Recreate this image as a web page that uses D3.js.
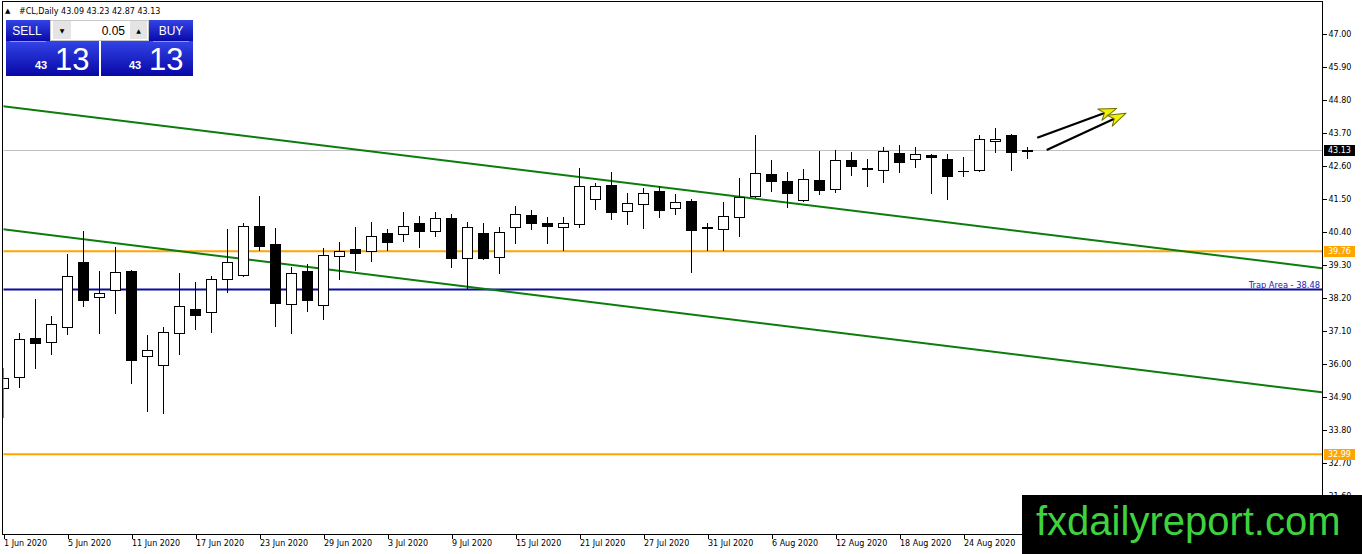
<!DOCTYPE html>
<html><head><meta charset="utf-8">
<script src="https://cdn.jsdelivr.net/npm/d3@7/dist/d3.min.js"></script>
<style>
html,body{margin:0;padding:0;background:#fff;}
svg{display:block;}
</style></head>
<body>
<svg id="c" width="1362" height="554" font-family="DejaVu Sans, sans-serif"></svg>
<script>
// ---------- data ----------
const dates = ["1 Jun 2020","2 Jun 2020","3 Jun 2020","4 Jun 2020","5 Jun 2020","8 Jun 2020","9 Jun 2020","10 Jun 2020","11 Jun 2020","12 Jun 2020",
"15 Jun 2020","16 Jun 2020","17 Jun 2020","18 Jun 2020","19 Jun 2020","22 Jun 2020","23 Jun 2020","24 Jun 2020","25 Jun 2020","26 Jun 2020",
"29 Jun 2020","30 Jun 2020","1 Jul 2020","2 Jul 2020","3 Jul 2020","6 Jul 2020","7 Jul 2020","8 Jul 2020","9 Jul 2020","10 Jul 2020",
"13 Jul 2020","14 Jul 2020","15 Jul 2020","16 Jul 2020","17 Jul 2020","20 Jul 2020","21 Jul 2020","22 Jul 2020","23 Jul 2020","24 Jul 2020",
"27 Jul 2020","28 Jul 2020","29 Jul 2020","30 Jul 2020","31 Jul 2020","3 Aug 2020","4 Aug 2020","5 Aug 2020","6 Aug 2020","7 Aug 2020",
"10 Aug 2020","11 Aug 2020","12 Aug 2020","13 Aug 2020","14 Aug 2020","17 Aug 2020","18 Aug 2020","19 Aug 2020","20 Aug 2020","21 Aug 2020",
"24 Aug 2020","25 Aug 2020","26 Aug 2020","27 Aug 2020","28 Aug 2020"];
const opens = [35.19,35.56,36.87,36.74,37.24,39.40,38.22,38.47,39.10,36.26,35.96,37.02,37.82,37.72,38.82,38.96,40.60,40.01,38.01,39.10,
37.96,39.61,39.83,39.77,40.36,40.32,40.69,40.44,40.86,39.54,40.36,39.58,40.56,40.97,40.70,40.56,40.66,41.49,41.96,41.09,
41.32,41.77,41.19,41.43,40.55,40.49,40.91,41.61,42.33,42.10,41.46,42.12,41.84,42.79,42.54,42.46,43.03,42.82,42.96,42.82,
42.42,42.47,43.44,43.63,43.09];
const highs = [35.87,37.02,38.17,37.60,39.67,40.43,39.10,39.89,39.15,36.97,37.23,39.02,38.73,38.93,40.50,40.69,41.60,40.52,39.22,39.32,
39.86,40.08,40.56,40.72,40.49,41.06,40.93,41.06,41.00,40.74,40.69,40.56,41.27,41.13,40.89,40.89,42.52,42.04,42.40,41.69,
41.86,41.93,41.66,41.50,40.69,41.39,42.19,43.63,42.80,42.40,42.50,43.10,43.13,43.07,42.82,43.22,43.30,43.22,43.00,43.00,
42.91,43.63,43.86,43.66,43.23];
const lows = [34.23,35.24,35.88,36.33,37.00,37.93,37.04,37.71,35.38,34.44,34.36,36.34,37.18,37.08,38.39,38.92,39.80,37.28,37.04,37.78,
37.51,38.82,39.13,39.44,39.80,40.11,39.89,40.28,39.24,38.53,39.50,39.04,40.04,40.49,40.02,39.80,40.56,41.17,40.84,40.68,
40.54,40.91,41.01,39.08,39.80,39.80,40.27,41.56,41.78,41.24,41.44,41.67,41.74,42.31,41.93,42.08,42.41,42.58,41.69,41.51,
42.28,42.44,43.08,42.47,42.87];
const closes = [35.54,36.82,36.71,37.32,38.92,38.14,38.36,39.07,36.13,36.46,37.06,37.92,37.64,38.82,39.39,40.60,39.94,38.04,39.02,38.14,
39.63,39.77,39.69,40.26,40.08,40.59,40.44,40.86,39.54,40.56,39.54,40.41,40.99,40.71,40.59,40.69,41.92,41.92,41.08,41.36,
41.69,41.14,41.39,40.46,40.57,40.92,41.58,42.36,42.11,41.71,42.16,41.81,42.79,42.59,42.50,43.09,42.74,43.00,42.89,42.28,
42.44,43.49,43.51,43.08,43.13];
const tickLabels = ["1 Jun 2020","5 Jun 2020","11 Jun 2020","17 Jun 2020","23 Jun 2020","29 Jun 2020","3 Jul 2020","9 Jul 2020",
"15 Jul 2020","21 Jul 2020","27 Jul 2020","31 Jul 2020","6 Aug 2020","12 Aug 2020","18 Aug 2020","24 Aug 2020"];
const yTicks = [47.00,45.90,44.80,43.70,42.60,41.50,40.40,39.30,38.20,37.10,36.00,34.90,33.80,32.70,31.60];
const bidPrice = 43.13;
const supportLevels = [39.76, 32.99];
const trapLevel = 38.48;
const trendUpper = [[0,44.59],[64,40.40]];
const trendLower = [[0,40.49],[64,36.27]];
const arrowStarts = [[64.64,43.54],[65.23,43.13]];
const arrowEnds = [[69.61,44.52],[70.19,44.36]];
const header = {symbol:"#CL,Daily", ohlc:[43.09,43.23,42.87,43.13]};
const lot = "0.05";

// ---------- layout ----------
const L = 3, R = 1322, T = 2, B = 534;
const SANS = "Liberation Sans, Arial, sans-serif";
const svg = d3.select("#c");
const x = d3.scaleLinear().domain([0,1]).range([3,19]);
const y = d3.scaleLinear().domain([31.6,47]).range([496,34]);
const f2 = d3.format(".2f");

const defs = svg.append("defs");
defs.append("clipPath").attr("id","clip").append("rect")
  .attr("x",L+0.5).attr("y",T+0.5).attr("width",R-L-0.5).attr("height",B-T-0.5);
const grad = defs.append("linearGradient").attr("id","blueg").attr("x1",0).attr("y1",0).attr("x2",0).attr("y2",1);
grad.append("stop").attr("offset","0%").attr("stop-color","#3344e6");
grad.append("stop").attr("offset","100%").attr("stop-color","#0707a6");

const plot = svg.append("g").attr("clip-path","url(#clip)");

// horizontal level lines
plot.append("line").attr("x1",L).attr("x2",R)
  .attr("y1",Math.round(y(bidPrice))+0.5).attr("y2",Math.round(y(bidPrice))+0.5)
  .attr("stroke","#c0c0c0").attr("stroke-width",1);
plot.selectAll(".sup").data(supportLevels).enter().append("line")
  .attr("x1",L).attr("x2",R).attr("y1",d=>y(d)).attr("y2",d=>y(d))
  .attr("stroke","#ffa500").attr("stroke-width",2);
plot.append("line").attr("x1",L).attr("x2",R).attr("y1",y(trapLevel)).attr("y2",y(trapLevel))
  .attr("stroke","#0b0b9e").attr("stroke-width",2);

// trend lines extended across chart
function extLine(pts){
  const [a,b] = pts; const s = (b[1]-a[1])/(b[0]-a[0]);
  const i0 = x.invert(L), i1 = x.invert(R);
  return [[x(i0), y(a[1]+s*(i0-a[0]))],[x(i1), y(a[1]+s*(i1-a[0]))]];
}
[trendUpper,trendLower].forEach(t=>{
  const p = extLine(t);
  plot.append("line").attr("x1",p[0][0]).attr("y1",p[0][1]).attr("x2",p[1][0]).attr("y2",p[1][1])
    .attr("stroke","#0a7d0a").attr("stroke-width",2);
});

// candles
const candles = dates.map((d,i)=>({i,o:opens[i],h:highs[i],l:lows[i],c:closes[i]}));
const cg = plot.append("g").attr("shape-rendering","crispEdges");
candles.forEach(d=>{
  const cx = Math.round(x(d.i));
  cg.append("line").attr("x1",cx+0.5).attr("x2",cx+0.5)
    .attr("y1",Math.round(y(d.h))).attr("y2",Math.round(y(d.l))+1)
    .attr("stroke","#000").attr("stroke-width",1);
  const yt = Math.round(y(Math.max(d.o,d.c))), yb = Math.round(y(Math.min(d.o,d.c)));
  const up = d.c >= d.o;
  if (yb - yt < 1) {
    cg.append("line").attr("x1",cx-5).attr("x2",cx+6).attr("y1",yt+0.5).attr("y2",yt+0.5)
      .attr("stroke","#000").attr("stroke-width",1);
  } else {
    cg.append("rect").attr("x",cx-4.5).attr("y",yt+0.5).attr("width",10).attr("height",yb-yt)
      .attr("fill",up?"#fff":"#000").attr("stroke","#000").attr("stroke-width",1);
  }
});

// arrows
arrowStarts.forEach((s,k)=>{
  const e = arrowEnds[k];
  const x1=x(s[0]), y1=y(s[1]), x2=x(e[0]), y2=y(e[1]);
  const ang = Math.atan2(y2-y1,x2-x1)*180/Math.PI;
  const len = Math.hypot(x2-x1,y2-y1);
  const g = plot.append("g").attr("transform",`translate(${x1},${y1}) rotate(${ang})`);
  g.append("line").attr("x1",0).attr("y1",0).attr("x2",len-13).attr("y2",0)
    .attr("stroke","#000").attr("stroke-width",2.2);
  g.append("path").attr("d",`M${len},0 L${len-18},-6 L${len-13},0 L${len-18},6 Z`)
    .attr("fill","#f2f200").attr("stroke","#6e6e00").attr("stroke-width",1).attr("stroke-linejoin","round");
});

// trap label
svg.append("text").attr("x",R-2).attr("y",y(trapLevel)-2).attr("text-anchor","end")
  .attr("font-size",8.3).attr("fill","#1a1ab0").text("Trap Area - "+f2(trapLevel));

// frame
svg.append("rect").attr("x",L-0.5).attr("y",T-0.5).attr("width",R-L+1).attr("height",B-T+1)
  .attr("fill","none").attr("stroke","#000").attr("stroke-width",1).attr("shape-rendering","crispEdges");

// y axis
const ya = svg.append("g").attr("transform",`translate(${R+0.5},0)`)
  .call(d3.axisRight(y).tickValues(yTicks).tickSize(4).tickFormat(f2));
ya.attr("font-family",null);
ya.select(".domain").remove();
ya.selectAll("line").attr("stroke","#000").attr("shape-rendering","crispEdges");
ya.selectAll("text").attr("font-size",8).attr("fill","#000").attr("x",6);

// x axis
const tickIdx = tickLabels.map(t=>dates.indexOf(t));
const xa = svg.append("g").attr("transform",`translate(0.5,${B+0.5})`)
  .call(d3.axisBottom(x).tickValues(tickIdx).tickSize(4).tickFormat(i=>dates[i]));
xa.attr("font-family",null);
xa.select(".domain").remove();
xa.selectAll("line").attr("stroke","#000").attr("shape-rendering","crispEdges");
xa.selectAll("text").attr("font-size",8).attr("fill","#000")
  .attr("text-anchor","start").attr("x",0).attr("y",6);

// price boxes
function priceBox(v,bg){
  const cy = y(v);
  svg.append("rect").attr("x",R+2).attr("y",Math.round(cy)-5).attr("width",31).attr("height",11).attr("fill",bg);
  svg.append("text").attr("x",R+6).attr("y",cy).attr("dy","0.34em").attr("font-size",8)
    .attr("fill","#fff").text(f2(v));
}
priceBox(bidPrice,"#000");
supportLevels.forEach(v=>priceBox(v,"#ffa500"));

// header
svg.append("text").attr("x",5).attr("y",13).attr("font-size",7).attr("fill","#000").text("▲");
svg.append("text").attr("x",19).attr("y",14).attr("font-size",8).attr("fill","#000")
  .text(header.symbol+"  "+header.ohlc.map(f2).join(" "));

// trade panel
const tp = svg.append("g").attr("font-family",SANS);
tp.append("rect").attr("x",6).attr("y",20).attr("width",44).attr("height",22).attr("fill","url(#blueg)");
tp.append("rect").attr("x",149).attr("y",20).attr("width",44).attr("height",22).attr("fill","url(#blueg)");
tp.append("rect").attr("x",6).attr("y",41).attr("width",93).attr("height",35).attr("fill","url(#blueg)");
tp.append("rect").attr("x",101).attr("y",41).attr("width",92).attr("height",35).attr("fill","url(#blueg)");
tp.append("rect").attr("x",50.5).attr("y",20.5).attr("width",98).attr("height",20).attr("fill","#fff").attr("stroke","#c8c8c8");
tp.append("rect").attr("x",53).attr("y",21).attr("width",18).attr("height",18).attr("fill","#e4e4e4");
tp.append("rect").attr("x",130).attr("y",21).attr("width",17).attr("height",18).attr("fill","#e4e4e4");
tp.append("text").attr("x",62).attr("y",33).attr("text-anchor","middle").attr("font-family","DejaVu Sans").attr("font-size",6).attr("fill","#000").text("▼");
tp.append("text").attr("x",138.5).attr("y",33).attr("text-anchor","middle").attr("font-family","DejaVu Sans").attr("font-size",6).attr("fill","#000").text("▲");
tp.append("text").attr("x",125).attr("y",35).attr("text-anchor","end").attr("font-size",12).attr("fill","#000").text(lot);
tp.append("text").attr("x",27).attr("y",35).attr("text-anchor","middle").attr("font-size",12).attr("fill","#fff").text("SELL");
tp.append("text").attr("x",171).attr("y",35).attr("text-anchor","middle").attr("font-size",12).attr("fill","#fff").text("BUY");
tp.append("line").attr("x1",10).attr("x2",46).attr("y1",41.5).attr("y2",41.5).attr("stroke","#8f95e8");
tp.append("line").attr("x1",153).attr("x2",189).attr("y1",41.5).attr("y2",41.5).attr("stroke","#8f95e8");
const bidStr = f2(bidPrice).split(".");
[[35,55],[129,149]].forEach(p=>{
  tp.append("text").attr("x",p[0]).attr("y",69).attr("font-size",11).attr("font-weight","bold").attr("fill","#fff").text(bidStr[0]);
  tp.append("text").attr("x",p[1]).attr("y",70).attr("font-size",31).attr("fill","#fff").text(bidStr[1]);
});

// watermark
svg.append("rect").attr("x",1022).attr("y",495).attr("width",340).attr("height",59).attr("fill","#000");
svg.append("text").attr("x",1036).attr("y",535).attr("font-family",SANS)
  .attr("font-size",40).attr("fill","#3fd23f").text("fxdailyreport.com");
</script>
</body></html>
